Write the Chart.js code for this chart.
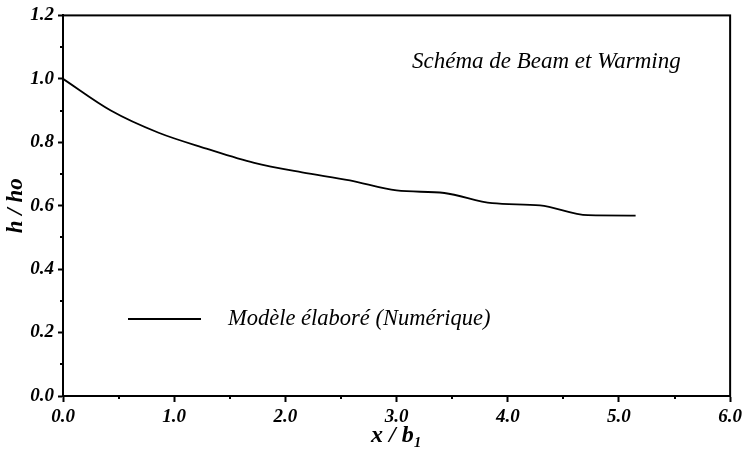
<!DOCTYPE html>
<html>
<head>
<meta charset="utf-8">
<script src="https://cdn.jsdelivr.net/npm/chart.js@4.4.1/dist/chart.umd.min.js"></script>
<style>
  html, body { margin: 0; padding: 0; background: #fff; }
  #wrap { width: 746px; height: 450px; position: relative; }
</style>
</head>
<body>
<div id="wrap"><canvas id="c" width="746" height="450"></canvas></div>
<script>
// ---- data ----
const xValues = [0, 0.43, 0.86, 1.29, 1.72, 2.15, 2.58, 3.00, 3.43, 3.86, 4.29, 4.72, 5.15];
const hValues = [1.0, 0.90, 0.83, 0.78, 0.735, 0.705, 0.68, 0.648, 0.640, 0.608, 0.601, 0.570, 0.569];
const seriesLabel = 'Modèle élaboré (Numérique)';
const annotationText = 'Schéma de Beam et Warming';
const xTitle = 'x / b₁';
const yTitle = 'h / ho';
const xTickStep = 1, xMinorStep = 0.5;
const yTickStep = 0.2, yMinorStep = 0.1;

const points = xValues.map((x, i) => ({ x: x, y: hValues[i] }));

const serif = "'Liberation Serif', 'Times New Roman', serif";

const framePlugin = {
  id: 'frame',
  afterDraw(chart) {
    const { ctx, chartArea: a, scales: { x, y } } = chart;
    ctx.save();
    ctx.strokeStyle = '#000';
    // frame
    ctx.lineWidth = 2;
    ctx.strokeRect(a.left, a.top, a.right - a.left, a.bottom - a.top);
    // minor ticks
    ctx.lineWidth = 2;
    ctx.beginPath();
    for (let v = x.min + xMinorStep; v < x.max; v += xTickStep) {
      const px = Math.round(x.getPixelForValue(v));
      ctx.moveTo(px, a.bottom);
      ctx.lineTo(px, a.bottom + 3);
    }
    for (let v = y.min + yMinorStep; v < y.max; v += yTickStep) {
      const py = Math.round(y.getPixelForValue(v));
      ctx.moveTo(a.left, py);
      ctx.lineTo(a.left - 3, py);
    }
    ctx.stroke();
    // annotation
    ctx.fillStyle = '#000';
    ctx.font = 'italic 23px ' + serif;
    ctx.textBaseline = 'alphabetic';
    ctx.textAlign = 'left';
    ctx.fillText(annotationText, 412, 68);
    // legend
    const ds = chart.data.datasets[0];
    ctx.strokeStyle = ds.borderColor;
    ctx.lineWidth = ds.borderWidth;
    ctx.beginPath();
    ctx.moveTo(128, 319);
    ctx.lineTo(201, 319);
    ctx.stroke();
    ctx.font = 'italic 22.5px ' + serif;
    ctx.fillText(ds.label, 228, 325);
    ctx.restore();
  }
};

new Chart(document.getElementById('c'), {
  type: 'scatter',
  data: {
    datasets: [{
      label: seriesLabel,
      data: points,
      showLine: true,
      borderColor: '#000',
      borderWidth: 1.8,
      pointRadius: 0,
      cubicInterpolationMode: 'monotone',
      fill: false
    }]
  },
  options: {
    responsive: false,
    animation: false,
    events: [],
    layout: { padding: { top: 13, right: 13, left: 0, bottom: 0 } },
    plugins: { legend: { display: false }, tooltip: { enabled: false } },
    scales: {
      x: {
        type: 'linear', min: 0, max: 6,
        afterFit(s) { s.height = 54; },
        grid: { drawOnChartArea: false, drawTicks: true, tickLength: 6, tickWidth: 2, tickColor: '#000' },
        border: { display: true, color: '#000', width: 2 },
        ticks: {
          stepSize: xTickStep, color: '#000', padding: 4, maxRotation: 0,
          font: { family: serif, size: 19, style: 'italic', weight: 'bold' },
          callback: v => Number(v).toFixed(1)
        },
        title: {
          display: true, text: xTitle, color: '#000', padding: { top: 0, bottom: 0 },
          font: { family: serif, size: 24, style: 'italic', weight: 'bold' }
        }
      },
      y: {
        type: 'linear', min: 0, max: 1.2,
        afterFit(s) { s.width = 63; },
        grid: { drawOnChartArea: false, drawTicks: true, tickLength: 5, tickWidth: 2, tickColor: '#000' },
        border: { display: true, color: '#000', width: 2 },
        ticks: {
          stepSize: yTickStep, color: '#000', padding: 4,
          font: { family: serif, size: 19, style: 'italic', weight: 'bold' },
          callback: v => Number(v).toFixed(1)
        },
        title: {
          display: true, text: yTitle, color: '#000', padding: { top: 2, bottom: 0 },
          font: { family: serif, size: 23, style: 'italic', weight: 'bold' }
        }
      }
    }
  },
  plugins: [framePlugin]
});
</script>
</body>
</html>
